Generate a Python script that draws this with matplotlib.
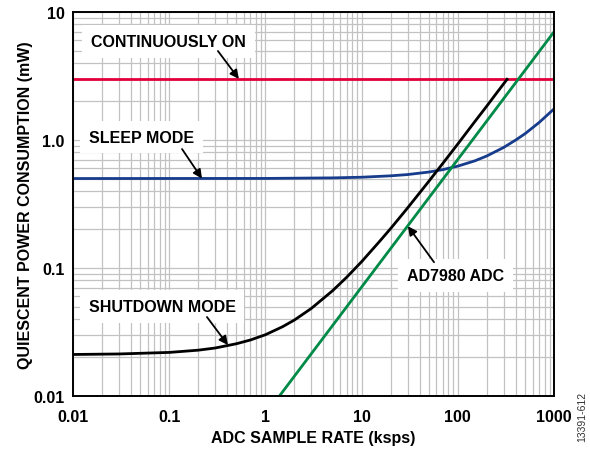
import matplotlib
matplotlib.use("Agg")
import matplotlib.pyplot as plt
from matplotlib.ticker import LogLocator, NullFormatter

plt.rcParams['font.family'] = ['Liberation Sans', 'DejaVu Sans']

# values (x in ksps, y in mW)
x_ticks = [0.01, 0.1, 1, 10, 100, 1000]
x_tick_labels = ["0.01", "0.1", "1", "10", "100", "1000"]
y_ticks = [0.01, 0.1, 1, 10]
y_tick_labels = ["0.01", "0.1", "1.0", "10"]

cont_x = [0.01, 1000]
cont_y = [3.0, 3.0]

sleep_x = [0.01, 1, 5, 10, 20, 30, 50, 70, 100, 150, 200, 300, 400, 500, 700, 1000]
sleep_y = [0.50, 0.501, 0.506, 0.512, 0.525, 0.537, 0.562, 0.587, 0.625, 0.687, 0.75,
           0.875, 1.0, 1.12, 1.37, 1.75]

shut_x = [0.01, 0.03, 0.1, 0.2, 0.3, 0.5, 0.7, 1, 1.5, 2, 3, 5, 7, 10, 15, 20, 30,
          50, 70, 100, 150, 200, 250, 325]
shut_y = [0.0211, 0.0213, 0.0219, 0.0228, 0.0237, 0.0256, 0.0274, 0.0301, 0.0347,
          0.0392, 0.0483, 0.0665, 0.0847, 0.112, 0.158, 0.203, 0.294, 0.476, 0.658,
          0.931, 1.39, 1.84, 2.30, 2.98]

adc_x = [1.4, 1000]
adc_y = [0.01, 7.0]

# label text, text centre, arrow tail, arrow tip (data coords)
labels = [
    ("CONTINUOUSLY ON", (0.0984, 5.87), (0.321, 4.96), (0.53, 3.0)),
    ("SLEEP MODE", (0.0515, 1.055), (0.136, 0.85), (0.219, 0.5)),
    ("SHUTDOWN MODE", (0.0845, 0.0502), (0.247, 0.0414), (0.408, 0.025)),
    ("AD7980 ADC", (94.2, 0.0871), (56.6, 0.111), (30.3, 0.212)),
]

fig = plt.figure(figsize=(5.9, 4.52), dpi=100)
ax = fig.add_axes([0.1237, 0.1217, 0.8153, 0.8495])
ax.set_xscale('log')
ax.set_yscale('log')
ax.set_xlim(0.01, 1000)
ax.set_ylim(0.01, 10)

ax.xaxis.set_minor_locator(LogLocator(base=10, subs=range(2, 10), numticks=20))
ax.yaxis.set_minor_locator(LogLocator(base=10, subs=range(2, 10), numticks=20))
ax.xaxis.set_minor_formatter(NullFormatter())
ax.yaxis.set_minor_formatter(NullFormatter())
ax.grid(True, which='both', color='#c2c2c2', lw=0.9)
ax.set_axisbelow(True)
ax.tick_params(which='both', length=0)
ax.tick_params(axis='x', pad=9.5)
ax.tick_params(axis='y', pad=6)

ax.set_xticks(x_ticks)
ax.set_xticklabels(x_tick_labels, fontsize=11.5, fontweight='bold')
ax.set_yticks(y_ticks)
ax.set_yticklabels(y_tick_labels, fontsize=11.5, fontweight='bold')

for s in ax.spines.values():
    s.set_linewidth(1.4)

ax.plot(cont_x, cont_y, color='#e2003a', lw=2.0)
ax.plot(sleep_x, sleep_y, color='#173c8c', lw=2.0)
ax.plot(shut_x, shut_y, color='black', lw=2.0)
ax.plot(adc_x, adc_y, color='#008a47', lw=2.0)

ax.set_xlabel("ADC SAMPLE RATE (ksps)", fontsize=11.5, fontweight='bold', labelpad=4)
ax.set_ylabel("QUIESCENT POWER CONSUMPTION (mW)", fontsize=11.5, fontweight='bold', labelpad=0)

arrow = dict(arrowstyle='-|>', color='black', lw=1.3, mutation_scale=13, shrinkA=0, shrinkB=0)
box = dict(boxstyle='square,pad=0.55', fc='white', ec='none')

for txt, pos, tail, tip in labels:
    ax.text(pos[0], pos[1], txt, ha='center', va='center', fontsize=11.5,
            fontweight='bold', bbox=box, zorder=3)
    ax.annotate("", xy=tip, xytext=tail, arrowprops=arrow, zorder=4)

fig.text(0.986, 0.077, "13391-612", rotation=90, fontsize=7.5, color='#333333',
         ha='center', va='center')

fig.savefig("out.png", dpi=100)
